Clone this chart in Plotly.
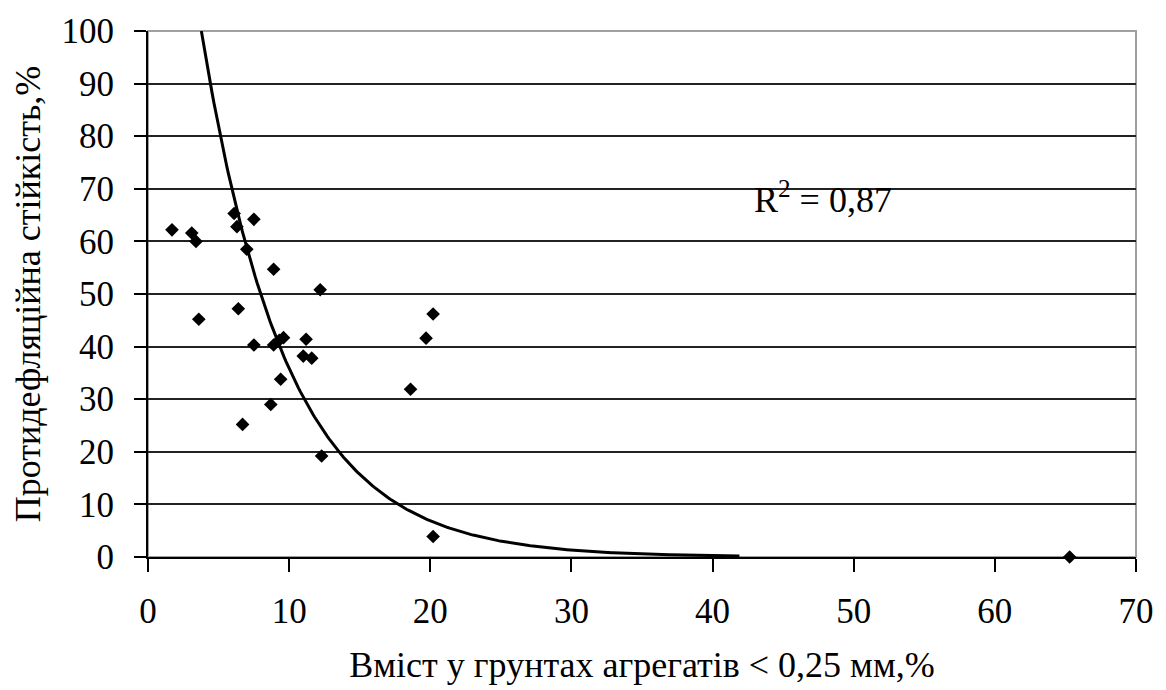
import numpy as np
import plotly.graph_objects as go

# Data
x_vals = [1.7, 3.1, 3.4, 6.1, 6.3, 7.5, 7.0, 8.9, 12.2, 6.4, 3.6,
          7.5, 8.9, 9.3, 9.6, 11.2, 11.0, 11.6, 9.4, 8.7, 6.7, 12.3,
          20.2, 19.7, 18.6, 20.2, 65.3]
y_vals = [62.2, 61.6, 60.0, 65.3, 62.8, 64.2, 58.5, 54.7, 50.8, 47.2, 45.2,
          40.3, 40.3, 41.2, 41.7, 41.4, 38.2, 37.8, 33.8, 29.0, 25.2, 19.2,
          46.2, 41.6, 31.9, 3.9, 0.0]

# Exponential trendline parameters (y = a * exp(-b x))
trend_a = 186.6
trend_b = 0.165
trend_x_end = 41.9
r2_text = "R<sup>2</sup> = 0,87"

x_ticks = [0, 10, 20, 30, 40, 50, 60, 70]
y_ticks = [0, 10, 20, 30, 40, 50, 60, 70, 80, 90, 100]

x_title = "Вміст у грунтах агрегатів < 0,25 мм,%"
y_title = "Протидефляційна стійкість,%"

x_start = np.log(trend_a / 100.0) / trend_b
tx = np.linspace(x_start, trend_x_end, 300)
ty = trend_a * np.exp(-trend_b * tx)

FONT = "'Liberation Serif', 'Times New Roman', serif"

fig = go.Figure()
fig.add_trace(go.Scatter(x=tx, y=ty, mode="lines",
                         line=dict(color="black", width=3),
                         hoverinfo="skip", showlegend=False))
fig.add_trace(go.Scatter(x=x_vals, y=y_vals, mode="markers",
                         marker=dict(symbol="diamond", size=10.5, color="black",
                                     line=dict(width=0)),
                         showlegend=False, cliponaxis=False))

fig.add_annotation(x=42.8, y=68.4, xref="x", yref="y", text=r2_text,
                   showarrow=False, xanchor="left", yanchor="middle",
                   font=dict(family=FONT, size=36, color="black"))

fig.update_layout(
    width=1166, height=690,
    margin=dict(l=148, r=24, t=22, b=132),
    paper_bgcolor="white", plot_bgcolor="white",
    font=dict(family=FONT, size=35, color="black"),
    shapes=[dict(type="rect", xref="paper", yref="paper", x0=0, y0=0, x1=1, y1=1,
                 line=dict(color="#a0a0a0", width=2), layer="below")],
)
fig.update_xaxes(range=[0, 70], tickvals=x_ticks, ticks="outside", ticklen=13,
                 tickwidth=2, tickcolor="black", showline=True, linecolor="black",
                 linewidth=2, showgrid=False, zeroline=False,
                 tickfont=dict(family=FONT, size=35, color="black"),
                 title=dict(text=x_title, font=dict(family=FONT, size=36, color="black"),
                            standoff=22),
                 ticklabelstandoff=9)
fig.update_yaxes(range=[0, 100], tickvals=y_ticks, ticks="outside", ticklen=12,
                 tickwidth=2, tickcolor="black", showline=True, linecolor="black",
                 linewidth=2, showgrid=True, gridcolor="#222222", gridwidth=1.6,
                 zeroline=False,
                 tickfont=dict(family=FONT, size=35, color="black"),
                 title=dict(text=y_title, font=dict(family=FONT, size=36, color="black"),
                            standoff=10),
                 ticklabelstandoff=13)

fig.write_html("out.html")
